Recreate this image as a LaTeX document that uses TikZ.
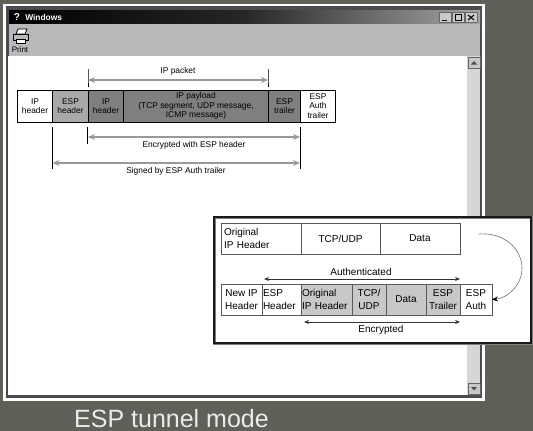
\documentclass[tikz,border=0pt]{standalone}
\usepackage{xcolor}
\usepackage{fontspec}
\setmainfont{Liberation Sans}
\usetikzlibrary{arrows.meta}
\definecolor{slide}{HTML}{5F6057}
\definecolor{barg}{HTML}{B9B9B9}
\definecolor{trackg}{HTML}{D6D6D6}
\definecolor{espg}{HTML}{A9A9A9}
\definecolor{darkg}{HTML}{7F7F7F}
\definecolor{aqua}{HTML}{C8C8C8}
\begin{document}
\begin{tikzpicture}[x=1pt, y=-1pt, >=stealth, line width=0.5pt,
   pkt/.style={draw=black, line width=0.7pt, anchor=north west, inner sep=0pt, outer sep=0pt, align=center, font=\fontsize{8.4}{9.2}\selectfont, minimum height=32pt},
   tun/.style={draw=black!65, line width=0.8pt, anchor=north west, inner sep=0pt, outer sep=0pt, align=center, font=\fontsize{10}{12.3}\selectfont, minimum height=31pt},
   lbl/.style={font=\fontsize{8.4}{9.2}\selectfont, inner sep=0pt},
   tunlbl/.style={font=\fontsize{10}{12}\selectfont, inner sep=0pt},
   grayarrow/.style={draw=black!40, line width=1.1pt, <->, >={Stealth[length=7pt,width=6pt]}},
   tick/.style={draw=black, line width=0.6pt},
   blkarrow/.style={draw=black!80, line width=0.8pt, <->, >={Stealth[length=5pt,width=4pt]}},
   winbtn/.style={draw=black!60, fill=aqua, anchor=north west, inner sep=0pt, minimum width=12pt, minimum height=10pt}]
   \useasboundingbox (0,0) rectangle (533,431);
   \fill [slide] (0,0) rectangle (533,431);
   % window
   \fill [white] (3,4) rectangle (485,401);
   \fill [black!70] (6,6) rectangle (482,398);
   \fill [white] (8,56) rectangle (480,395);
   \shade [left color=black, right color=black!35, middle color=black!85] (9,10) rectangle (480,24);
   \fill [barg] (9,24) rectangle (480,56);
   \fill [trackg] (467,56) rectangle (480,395);
   \node [lbl, anchor=west, text=white, font=\fontsize{8.4}{9}\selectfont\bfseries] (wintitle) at (25,17) {Windows};
   \node [anchor=center, text=white, inner sep=0pt, font=\fontsize{10}{10}\selectfont\bfseries] (winicon) at (17,17) {?};
   \node [winbtn] (minbtn) at (439,12) {};
   \node [winbtn] (maxbtn) at (452,12) {};
   \node [winbtn] (closebtn) at (465,12) {};
   \draw [black, line width=1pt] (442,20) -- (447,20);
   \draw [black, line width=1pt] (455,14.5) rectangle (461,20);
   \draw [black, line width=1pt] (468,15) -- (474,20) (474,15) -- (468,20);
   % print button
   \draw [black, fill=white, line width=0.8pt] (16,34) -- (18,29) -- (27,29) -- (25,34) -- cycle;
   \draw [black, fill=barg, line width=0.8pt] (13,34) rectangle (28,40);
   \draw [black, fill=white, line width=0.8pt] (16,39) rectangle (25,43);
   \node [lbl, font=\fontsize{8}{9}\selectfont] (print) at (20,49.5) {Print};
   % scroll buttons
   \node [winbtn, minimum height=11pt] (upbtn) at (468,57) {};
   \node [winbtn, minimum height=11pt] (downbtn) at (468,383) {};
   \fill [black!70] (471,64.5) -- (477,64.5) -- (474,61) -- cycle;
   \fill [black!70] (471,387) -- (477,387) -- (474,390.5) -- cycle;

   % first diagram
   \node [pkt, fill=white, minimum width=35pt] (iphdr) at (17.5,90) {IP\\header};
   \node [pkt, fill=espg, minimum width=36pt] (esphdr) at (52.5,90) {ESP\\header};
   \node [pkt, fill=darkg, minimum width=35pt] (inner) at (88.5,90) {IP\\header};
   \node [pkt, fill=darkg, minimum width=145pt] (payload) at (123.5,90) {IP payload\\(TCP segment, UDP message,\\ICMP message)};
   \node [pkt, fill=darkg, minimum width=32pt] (esptrl) at (268.5,90) {ESP\\trailer};
   \node [pkt, fill=white, minimum width=35pt] (espauth) at (300.5,90) {ESP\\Auth\\trailer};

   \coordinate (pktL) at (88,80);
   \coordinate (pktR) at (268,80);
   \coordinate (encL) at (88,137);
   \coordinate (encR) at (300,137);
   \coordinate (sigL) at (52.5,163);
   \coordinate (sigR) at (300,163);
   \draw [tick] (88,69) -- (pktL) -- (88,87);
   \draw [tick] (268,69) -- (pktR) -- (268,87);
   \draw [tick] (87.5,127) -- (87.5,144);
   \draw [tick] (300.5,127) -- (300.5,169);
   \draw [tick] (52.5,127) -- (52.5,169);
   \path (pktL) edge [grayarrow] (pktR);
   \path (encL) edge [grayarrow] (encR);
   \path (sigL) edge [grayarrow] (sigR);
   \node [lbl] (pktlbl) at (178,71) {IP packet};
   \node [lbl] (enclbl) at (194,145.5) {Encrypted with ESP header};
   \node [lbl] (siglbl) at (176,171) {Signed by ESP Auth trailer};

   % inset
   \draw [black!50, fill=white, line width=3pt] (214,217) rectangle (531,343);
   \draw [black!90, line width=1.8pt] (214,217) rectangle (531,343);
   \node [tun, fill=white, minimum width=80pt, align=left, text width=74pt, inner xsep=3pt] (origip) at (221,223) {Original\\IP Header};
   \node [tun, fill=white, minimum width=79pt] (tcpudp) at (301,223) {TCP/UDP};
   \node [tun, fill=white, minimum width=80pt] (data) at (380,223) {Data};

   \node [tun, fill=white, minimum width=41pt] (newip) at (221,284) {New IP\\Header};
   \node [tun, fill=white, minimum width=39pt, align=left, text width=37pt, inner xsep=1pt] (esphead) at (262,284) {ESP\\Header};
   \node [tun, fill=aqua, minimum width=51pt, align=left, text width=49pt, inner xsep=1pt] (origin) at (301,284) {Original\\IP Header};
   \node [tun, fill=aqua, minimum width=34pt] (tcp) at (352,284) {TCP/\\UDP};
   \node [tun, fill=aqua, minimum width=40pt] (inndata) at (386,284) {Data};
   \node [tun, fill=aqua, minimum width=34pt] (trailer) at (426,284) {ESP\\Trailer};
   \node [tun, fill=white, minimum width=32pt] (auth) at (460,284) {ESP\\Auth};

   \coordinate (authL) at (264,279);
   \coordinate (authR) at (460,279);
   \coordinate (encrL) at (304,322);
   \coordinate (encrR) at (460,322);
   \coordinate (bendS) at (479,234);
   \path (authL) edge [blkarrow] (authR);
   \path (encrL) edge [blkarrow] (encrR);
   \draw [-{Stealth[length=6pt,width=5pt,black]}, draw=black!55, line width=0.6pt] (bendS) .. controls (505,232) and (522,250) .. (522,268) .. controls (522,285) and (508,298) .. (auth.east);
   \node [tunlbl] (authlbl) at (361,272) {Authenticated};
   \node [tunlbl] (encrlbl) at (381,330) {Encrypted};

   \node [text=white!92!black, inner sep=0pt, anchor=base, font=\fontsize{25}{28}\selectfont] (caption) at (171.5,427) {ESP tunnel mode};
\end{tikzpicture}
\end{document}
